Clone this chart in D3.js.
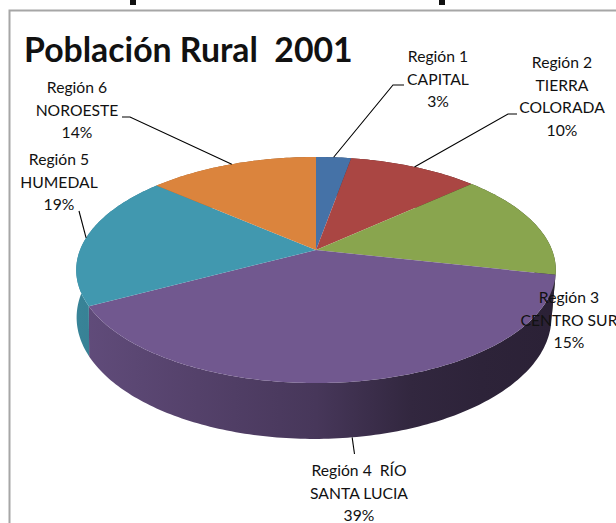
<!DOCTYPE html>
<html>
<head>
<meta charset="utf-8">
<style>
    html, body { margin: 0; padding: 0; background: #fff; overflow: hidden; }
    svg { display: block; }
    text { font-family: Lato, "Open Sans", sans-serif; fill: #111; }
</style>
<script src="https://cdn.jsdelivr.net/npm/d3@7"></script>
</head>
<body>
<svg id="chart" width="616" height="523"></svg>
<script>
// Values, share of rural population in percent
const regions = ["Región 1", "Región 2", "Región 3", "Región 4", "Región 5", "Región 6"];
const shares = [2.8, 10.4, 15.3, 38.7, 19.2, 13.6];
const colors = ["#4572a7", "#aa4643", "#89a54e", "#71588f", "#4198af", "#db843d"];
const title = "Población Rural  2001";

// The label lines as the chart breaks them
const labelLines = [
    [regions[0], "CAPITAL"],
    [regions[1], "TIERRA", "COLORADA"],
    [regions[2], "CENTRO SUR"],
    [regions[3] + "  RÍO", "SANTA LUCIA"],
    [regions[4], "HUMEDAL"],
    [regions[5], "NOROESTE"]
];

const width = 616, height = 523;
const svg = d3.select("#chart");

// Pie is a tilted disc seen in perspective
const cx = 316, cy = 250, rx = 236, ry = 109.5, tilt = 0.177, depth = 46, shrink = 0.99, lowerShift = -2;

function project(angle, r, lower) {
    const u = r * Math.sin(angle), v = -r * Math.cos(angle);
    const f = 1 / (1 - tilt * v);
    const k = lower ? shrink : 1;
    return [cx + (lower ? lowerShift : 0) + rx * u * f * k, cy + ry * v * f + (lower ? depth * f : 0)];
}

function arcPoints(start, end, lower) {
    const n = Math.max(2, Math.ceil((end - start) * 60));
    return d3.range(n + 1).map(i => project(start + (end - start) * i / n, 1, lower));
}

const line = d3.line();
const slices = d3.pie().sort(null).value(d => d)(shares);

// Frame, it runs off the picture on the right and at the bottom
svg.append("path")
    .attr("d", `M9.5,${height}V10.5H${width}`)
    .attr("fill", "none")
    .attr("stroke", "#a6a6a6")
    .attr("stroke-width", 2);

// Bits of the heading above, cut off by the crop
svg.selectAll("rect.cut").data([130, 439]).enter().append("rect")
    .attr("x", d => d).attr("y", 0).attr("width", 6).attr("height", 5).attr("fill", "#111");

svg.append("text")
    .attr("x", 24).attr("y", 62)
    .attr("font-size", 33.8).attr("font-weight", 700)
    .style("white-space", "pre")
    .text(title);

const defs = svg.append("defs");
const shadeStops = [[0, 0.14], [0.25, 0.26], [0.5, 0.37], [0.7, 0.56], [0.85, 0.6], [1, 0.62]];
slices.forEach((s, i) => {
    const grad = defs.append("linearGradient")
        .attr("id", "side" + i)
        .attr("gradientUnits", "userSpaceOnUse")
        .attr("x1", cx - rx).attr("x2", cx + rx).attr("y1", 0).attr("y2", 0);
    shadeStops.forEach(st => {
        grad.append("stop")
            .attr("offset", st[0])
            .attr("stop-color", d3.interpolateRgb(colors[i], "#000")(st[1]));
    });
});

// Sides first, the top covers whatever should not show
svg.selectAll("path.side").data(slices).enter().append("path")
    .attr("class", "side")
    .attr("fill", (d, i) => `url(#side${i})`)
    .attr("d", d => {
        const top = arcPoints(d.startAngle, d.endAngle, false);
        const low = arcPoints(d.startAngle, d.endAngle, true).reverse();
        return line(top.concat(low)) + "Z";
    });

svg.selectAll("path.top").data(slices).enter().append("path")
    .attr("class", "top")
    .attr("fill", (d, i) => colors[i])
    .attr("d", d => line([[cx, cy]].concat(arcPoints(d.startAngle, d.endAngle, false))) + "Z");

// Label places: centre x, first baseline, elbow of the leader
const labelPos = [
    {x: 438, y: 62, elbow: [[393, 85], [404, 85]]},
    {x: 562, y: 68, elbow: [[508, 114], [517, 114]]},
    {x: 569, y: 303, elbow: null},
    {x: 359, y: 476, elbow: [[354.5, 454]], lower: true},
    {x: 59, y: 165, elbow: [[79, 211]]},
    {x: 77, y: 93, elbow: [[130, 117], [122, 117]]}
];

slices.forEach((s, i) => {
    const pos = labelPos[i];
    const mid = (s.startAngle + s.endAngle) / 2;
    if (pos.elbow) {
        svg.append("path")
            .attr("d", line([project(mid, 1, pos.lower)].concat(pos.elbow)))
            .attr("fill", "none")
            .attr("stroke", "#000")
            .attr("stroke-width", 1.1);
    }
    const rows = labelLines[i].concat([Math.round(s.data) + "%"]);
    svg.append("text")
        .attr("text-anchor", "middle")
        .attr("font-size", 15.7)
        .style("white-space", "pre")
        .selectAll("tspan").data(rows).enter().append("tspan")
        .attr("x", pos.x)
        .attr("y", (d, j) => pos.y + j * 22.7)
        .text(d => d);
});
</script>
</body>
</html>
